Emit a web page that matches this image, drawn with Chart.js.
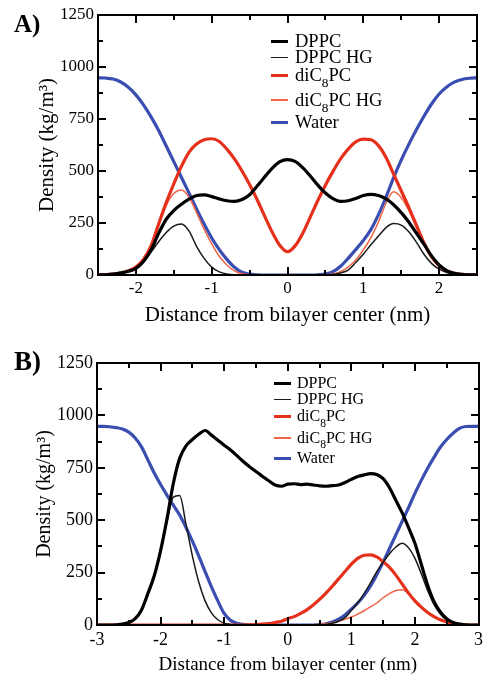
<!DOCTYPE html>
<html><head><meta charset="utf-8">
<script src="https://cdn.jsdelivr.net/npm/chart.js@4.4.1/dist/chart.umd.min.js"></script>
<style>
html,body{margin:0;padding:0;background:#fff;width:487px;height:675px;overflow:hidden;font-family:"Liberation Serif","Times New Roman",serif;color:#000;}
#wrap{position:relative;width:487px;height:675px;}
canvas{position:absolute;left:0;}
#cA{top:0}
#cB{top:335px}
.lbl{position:absolute;font-weight:bold;line-height:1;}
.leg{position:absolute;line-height:1;white-space:nowrap;}
.sw{position:absolute;}
.s8{font-size:0.72em;position:relative;top:0.45em;}
.frm{position:absolute;box-sizing:border-box;border:2px solid #000;pointer-events:none;}
.tk{position:absolute;background:#000;pointer-events:none;}
</style></head><body>
<div id="wrap">
<canvas id="cA" width="487" height="335"></canvas>
<canvas id="cB" width="487" height="340"></canvas>
<div class="lbl" style="left:14px;top:10.5px;font-size:25px">A)</div>
<div class="lbl" style="left:14px;top:348px;font-size:27px">B)</div>
</div>
<script>
// ---------- data ----------
const seriesNames = ['DPPC', 'DPPC HG', 'diC8PC', 'diC8PC HG', 'Water'];
const yTicks = [0, 250, 500, 750, 1000, 1250];
const yMinor = [125, 375, 625, 875, 1125];

// Panel A
const xA = [-2.5,-2.4,-2.3,-2.2,-2.1,-2.0,-1.9,-1.8,-1.7,-1.6,-1.5,-1.4,-1.3,-1.2,-1.1,-1.0,-0.9,-0.8,-0.7,-0.6,-0.5,-0.4,-0.3,-0.2,-0.1,0.0,0.1,0.2,0.3,0.4,0.5,0.6,0.7,0.8,0.9,1.0,1.1,1.2,1.3,1.4,1.5,1.6,1.7,1.8,1.9,2.0,2.1,2.2,2.3,2.4,2.5];
const dppcA = [0,1,4,10,18,32,65,120,200,268,310,340,365,382,385,377,366,357,354,363,386,428,472,514,545,555,546,516,476,432,394,367,354,357,368,382,388,382,366,338,300,255,202,148,92,48,21,8,3,1,0];
const dppcHgA = [0,1,4,9,17,30,62,110,160,204,235,245,212,138,80,38,15,5,1,0,0,0,0,0,0,0,0,0,0,0,1,3,10,24,60,100,145,187,228,247,240,208,158,100,56,28,12,5,2,1,0];
const dic8A = [0,1,4,9,20,38,75,140,245,348,438,522,590,630,650,655,642,605,558,500,435,362,282,205,142,112,140,200,278,358,432,498,558,605,640,653,650,622,565,485,405,325,240,155,88,45,20,8,3,1,0];
const dic8HgA = [0,1,4,9,20,38,75,138,240,335,392,409,375,300,220,150,90,48,20,6,1,0,0,0,0,0,0,0,0,0,1,5,16,38,72,120,180,255,345,400,372,310,230,150,85,43,20,8,3,1,0];
const waterA = [948,947,942,928,903,866,818,760,695,620,545,470,395,318,245,178,122,75,37,13,4,1,0,0,0,0,0,0,0,1,4,16,42,80,122,166,218,290,375,468,552,628,698,763,822,870,904,927,940,946,948];
const xTicksA = [-2, -1, 0, 1, 2];
const xMinorA = [-1.5, -0.5, 0.5, 1.5];

// Panel B
const xB = [-3.0,-2.9,-2.8,-2.7,-2.6,-2.5,-2.4,-2.3,-2.2,-2.1,-2.0,-1.9,-1.8,-1.7,-1.6,-1.5,-1.4,-1.3,-1.2,-1.1,-1.0,-0.9,-0.8,-0.7,-0.6,-0.5,-0.4,-0.3,-0.2,-0.1,0.0,0.1,0.2,0.3,0.4,0.5,0.6,0.7,0.8,0.9,1.0,1.1,1.2,1.3,1.4,1.5,1.6,1.7,1.8,1.9,2.0,2.1,2.2,2.3,2.4,2.5,2.6,2.7,2.8,2.9,3.0];
const dppcB = [0,0,0,1,4,12,30,72,150,235,355,505,675,795,855,885,910,928,906,882,858,835,808,780,755,732,710,688,668,662,672,674,670,672,668,664,662,665,668,680,695,708,716,722,718,698,655,595,535,465,390,290,190,112,62,30,12,4,1,0,0];
const dppcHgB = [0,0,0,1,4,12,30,70,142,228,348,492,610,618,480,330,205,115,58,25,9,3,1,0,0,0,0,0,0,0,0,0,0,0,0,1,3,8,18,35,70,105,150,200,255,300,340,372,390,368,318,245,165,98,52,24,10,3,1,0,0];
const dic8B = [0,0,0,0,0,0,0,0,0,0,0,0,0,0,0,0,0,0,0,0,0,0,0,0,1,2,4,7,12,18,30,40,55,72,95,122,152,185,220,255,290,318,333,335,325,302,275,238,195,152,115,85,60,40,25,15,8,3,1,0,0];
const dic8HgB = [0,0,0,0,0,0,0,0,0,0,0,0,0,0,0,0,0,0,0,0,0,0,0,0,0,0,0,0,0,0,0,0,0,0,1,3,6,11,18,27,38,52,68,86,105,130,150,165,168,148,113,83,58,38,24,14,7,3,1,0,0];
const waterB = [948,948,946,942,935,920,892,850,788,725,670,620,572,525,465,400,330,255,182,115,55,22,8,3,1,0,0,0,0,0,0,0,0,0,0,2,6,14,28,48,75,105,140,185,240,300,365,430,495,560,628,690,748,800,848,885,915,938,947,948,948];
const xTicksB = [-3, -2, -1, 0, 1, 2, 3];
const xMinorB = [-2.5, -1.5, -0.5, 0.5, 1.5, 2.5];

// ---------- styling ----------
const FAM = "'Liberation Serif', 'Times New Roman', serif";
const styles = [
  {color: '#000000', width: 3.2},
  {color: '#1a1a1a', width: 1.5},
  {color: '#e5301c', width: 3.2},
  {color: '#ef6445', width: 1.5},
  {color: '#3a4db0', width: 3.2}
];

function makePanel(id, p) {
  const datasets = p.series.map((vals, i) => ({
    label: seriesNames[i],
    data: p.x.map((xv, k) => ({x: xv, y: vals[k]})),
    borderColor: styles[i].color,
    borderWidth: styles[i].width,
    pointRadius: 0,
    fill: false,
    cubicInterpolationMode: 'monotone'
  }));
  return new Chart(document.getElementById(id), {
    type: 'line',
    data: {datasets},
    options: {
      responsive: false,
      animation: false,
      events: [],
      layout: {autoPadding: false, padding: p.pad},
      plugins: {
        legend: {display: false},
        tooltip: {enabled: false}
      },
      scales: {
        x: {
          type: 'linear', min: p.xMin, max: p.xMax,
          afterBuildTicks: s => { s.ticks = p.xTicks.map(v => ({value: v})); },
          afterFit: s => { s.height = p.xH; },
          grid: {display: false, drawTicks: false},
          border: {display: false},
          ticks: {padding: p.xTickPad, color: '#000', font: {family: FAM, size: p.tickSize}, maxRotation: 0, autoSkip: false, callback: v => String(v)},
          title: {display: true, text: 'Distance from bilayer center (nm)', color: '#000', font: {family: FAM, size: p.xTitleSize, lineHeight: p.xTitleLH}, padding: {top: 0, bottom: p.xTitlePad}}
        },
        y: {
          type: 'linear', min: 0, max: 1250,
          afterBuildTicks: s => { s.ticks = yTicks.map(v => ({value: v})); },
          afterFit: s => { s.width = p.yW; },
          grid: {display: false, drawTicks: false},
          border: {display: false},
          ticks: {padding: 4, color: '#000', font: {family: FAM, size: p.tickSize}, autoSkip: false, callback: v => String(v)},
          title: {display: true, text: 'Density (kg/m\u00B3)', color: '#000', font: {family: FAM, size: p.yTitleSize, lineHeight: 1.2}, padding: {top: p.yTitlePad, bottom: 0}}
        }
      }
    }
  });
}

// Box frame + inward ticks on all four sides, placed from the chart's own scales.
function addFrame(chart, offTop, xMajor, xMinor) {
  const wrap = document.getElementById('wrap');
  const a = chart.chartArea, xs = chart.scales.x, ys = chart.scales.y;
  const box = (l, t, w, h, cls) => {
    const d = document.createElement('div');
    d.className = cls;
    d.style.left = l + 'px'; d.style.top = t + 'px';
    d.style.width = w + 'px'; d.style.height = h + 'px';
    wrap.appendChild(d);
  };
  const T = offTop + a.top, B = offTop + a.bottom;
  box(a.left - 1, T - 1, a.right - a.left + 2, a.bottom - a.top + 2, 'frm');
  const vt = (v, len) => { const px = xs.getPixelForValue(v); box(px - 1, B - len, 2, len, 'tk'); box(px - 1, T, 2, len, 'tk'); };
  const ht = (v, len) => { const py = offTop + ys.getPixelForValue(v); box(a.left, py - 1, len, 2, 'tk'); box(a.right - len, py - 1, len, 2, 'tk'); };
  xMajor.forEach(v => vt(v, 8));
  xMinor.forEach(v => vt(v, 5));
  yTicks.forEach(v => ht(v, 8));
  yMinor.forEach(v => ht(v, 5));
}

const chA = makePanel('cA', {
  x: xA, series: [dppcA, dppcHgA, dic8A, dic8HgA, waterA],
  xMin: -2.5, xMax: 2.5, xTicks: xTicksA,
  pad: {top: 15, right: 10, left: 0, bottom: 0}, xH: 60, yW: 98,
  tickSize: 17, xTickPad: 3, xTitleSize: 21, xTitleLH: 1.2, xTitlePad: 7,
  yTitleSize: 21, yTitlePad: 35
});
const chB = makePanel('cB', {
  x: xB, series: [dppcB, dppcHgB, dic8B, dic8HgB, waterB],
  xMin: -3, xMax: 3, xTicks: xTicksB,
  pad: {top: 28, right: 3, left: 0, bottom: 0}, xH: 50, yW: 97,
  tickSize: 18, xTickPad: 4, xTitleSize: 19, xTitleLH: 1, xTitlePad: 0,
  yTitleSize: 20, yTitlePad: 33
});
addFrame(chA, 0, xTicksA, xMinorA);
addFrame(chB, 335, xTicksB, xMinorB);

// ---------- legends (HTML text with subscripts) ----------
function legend(rows, fs, swLeft, txtLeft) {
  const wrap = document.getElementById('wrap');
  rows.forEach((c, i) => {
    const sw = document.createElement('div');
    sw.className = 'sw';
    const h = styles[i].width >= 3 ? 3 : 1.6;
    sw.style.cssText = `left:${swLeft}px;width:17px;top:${c - h / 2}px;height:${h}px;background:${styles[i].color}`;
    wrap.appendChild(sw);
    const t = document.createElement('div');
    t.className = 'leg';
    t.style.cssText = `left:${txtLeft}px;top:${c - 0.5065 * fs}px;font-size:${fs}px`;
    t.innerHTML = seriesNames[i].replace('C8', 'C<span class="s8">8</span>');
    wrap.appendChild(t);
  });
}
legend([41.7, 57.7, 75.5, 100, 122], 18.5, 271, 295);
legend([383.3, 399.5, 416.5, 438, 458.3], 16, 274, 297);
</script>
</body></html>
